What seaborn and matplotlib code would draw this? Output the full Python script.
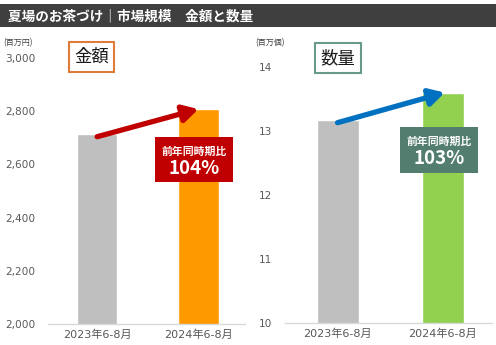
import matplotlib
matplotlib.use("Agg")
import matplotlib.pyplot as plt
import seaborn as sns
import pandas as pd
from matplotlib.patches import Rectangle

# ---- data ----
periods = ["2023年6-8月", "2024年6-8月"]
amount_values = [2714, 2808]          # 百万円
quantity_values = [13.17, 13.60]      # 百万個
amount_ticks = [2000, 2200, 2400, 2600, 2800, 3000]
amount_tick_labels = ["2,000", "2,200", "2,400", "2,600", "2,800", "3,000"]
quantity_ticks = [10, 11, 12, 13, 14]
quantity_tick_labels = ["10", "11", "12", "13", "14"]
title_text = "夏場のお茶づけ｜市場規模　金額と数量"
amount_yoy = "104%"
quantity_yoy = "103%"
yoy_label = "前年同時期比"

sns.set_theme(style="white")
plt.rcParams["font.family"] = ["Noto Sans CJK JP", "DejaVu Sans"]
LATIN_FIRST = ["DejaVu Sans", "Noto Sans CJK JP"]

W, H = 496, 345
fig = plt.figure(figsize=(W / 100, H / 100), dpi=100)
fig.patch.set_facecolor("white")


def fx(px):
    return px / W


def fy(py):
    return 1 - py / H


# title bar
fig.patches.append(Rectangle((0, fy(27)), 1, fy(4) - fy(27), transform=fig.transFigure,
                             facecolor="#3f3f3f", edgecolor="none", zorder=0))
fig.text(fx(8), fy(16), title_text, color="white", fontsize=9.8, fontweight="bold",
         va="center", ha="left")

tick_color = "#595959"


def make_panel(rect, values, palette, ylim, ticks, tick_labels, xlim):
    ax = fig.add_axes(rect)
    df = pd.DataFrame({"period": periods, "value": values})
    sns.barplot(data=df, x="period", y="value", hue="period", palette=palette,
                width=0.4, legend=False, ax=ax, saturation=1)
    ax.set_ylim(*ylim)
    ax.set_xlim(*xlim)
    ax.set_yticks(ticks)
    ax.set_yticklabels(tick_labels, color=tick_color, fontsize=7.6, family=LATIN_FIRST)
    for lab in ax.get_xticklabels():
        lab.set_family(LATIN_FIRST)
        lab.set_fontsize(8.0)
        lab.set_color(tick_color)
    ax.set_xlabel("")
    ax.set_ylabel("")
    ax.tick_params(axis="x", length=0, pad=4)
    ax.tick_params(axis="y", length=0, pad=9)
    for s in ["top", "right", "left"]:
        ax.spines[s].set_visible(False)
    ax.spines["bottom"].set_color("#d9d9d9")
    ax.spines["bottom"].set_linewidth(1.0)
    ax.patch.set_alpha(0)
    return ax


ax1 = make_panel([fx(48), fy(324), fx(245) - fx(48), fy(58) - fy(324)],
                 amount_values, ["#bfbfbf", "#ff9900"], (2000, 3000),
                 amount_ticks, amount_tick_labels, (-0.485, 1.46))
ax2 = make_panel([fx(285), fy(323), fx(492) - fx(285), fy(67) - fy(323)],
                 quantity_values, ["#bfbfbf", "#92d050"], (10, 14),
                 quantity_ticks, quantity_tick_labels, (-0.5, 1.47))

# unit labels
fig.text(fx(3), fy(43), "(百万円)", fontsize=5.8, color="#404040", va="center", ha="left")
fig.text(fx(255), fy(43), "(百万個)", fontsize=5.8, color="#404040", va="center", ha="left")

# title boxes
fig.text(fx(91.5), fy(57), "金額", fontsize=12.5, color="#1a1a1a", ha="center", va="center",
         bbox=dict(boxstyle="square,pad=0.32", facecolor="white", edgecolor="#e07b39", linewidth=1.5))
fig.text(fx(338), fy(58), "数量", fontsize=12.5, color="#1a1a1a", ha="center", va="center",
         bbox=dict(boxstyle="square,pad=0.32", facecolor="white", edgecolor="#6a9a8a", linewidth=1.5))

# arrows (from first bar value to second bar value)
ax1.annotate("", xy=(1.0, amount_values[1]), xytext=(0.0, amount_values[0] - 10),
             arrowprops=dict(arrowstyle="-|>,head_length=0.75,head_width=0.42", lw=3.8,
                             color="#c00000", shrinkA=0, shrinkB=0), zorder=5)
ax2.annotate("", xy=(1.02, quantity_values[1]), xytext=(0.0, quantity_values[0] - 0.04),
             arrowprops=dict(arrowstyle="-|>,head_length=0.75,head_width=0.42", lw=3.8,
                             color="#0070c0", shrinkA=0, shrinkB=0), zorder=5)

# YoY boxes
def yoy_box(x0, y0, x1, y1, color, pct):
    fig.patches.append(Rectangle((fx(x0), fy(y1)), fx(x1) - fx(x0), fy(y0) - fy(y1),
                                 transform=fig.transFigure, facecolor=color,
                                 edgecolor="none", zorder=6))
    cx = fx((x0 + x1) / 2)
    fig.text(cx, fy(y0 + 15), yoy_label, color="white", fontsize=7.8, fontweight="bold",
             ha="center", va="center", zorder=7)
    fig.text(cx, fy(y0 + 32), pct, color="white", fontsize=13.5, fontweight="bold",
             ha="center", va="center", zorder=7)


yoy_box(155, 137, 233, 182, "#c00000", amount_yoy)
yoy_box(400, 127, 478, 173, "#537d6e", quantity_yoy)

fig.savefig("out.png", dpi=100, facecolor="white")
